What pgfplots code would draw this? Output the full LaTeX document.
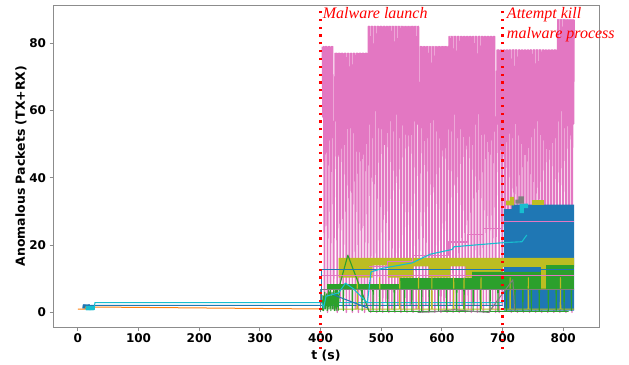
\documentclass[border=0pt]{standalone}
\usepackage{pgfplots}
\pgfplotsset{compat=1.18}
\usepackage{fontspec}
\setmainfont{DejaVu Sans}
\newfontfamily\annfont{Liberation Serif}

\definecolor{tabblue}{HTML}{1F77B4}
\definecolor{taborange}{HTML}{FF7F0E}
\definecolor{tabgreen}{HTML}{2CA02C}
\definecolor{tabpink}{HTML}{E377C2}
\definecolor{tabgray}{HTML}{7F7F7F}
\definecolor{tabolive}{HTML}{BCBD22}
\definecolor{tabcyan}{HTML}{17BECF}
\definecolor{spine}{HTML}{8C8C8C}

\begin{document}
\begin{tikzpicture}
\begin{axis}[
  name=main,
  scale only axis, width=546pt, height=322pt,
  xmin=-41, xmax=859, ymin=-4.35, ymax=91.35,
  clip=false,
  axis line style={draw=spine, line width=0.8pt},
  xtick={0,100,...,800}, ytick={0,20,...,80},
  xtick pos=left, ytick pos=left,
  tick align=outside, major tick length=3.5pt,
  tick style={draw=spine, line width=0.8pt},
  ticklabel style={font=\fontsize{12}{14}\selectfont\bfseries},
  /pgf/number format/assume math mode=true,
  label style={font=\fontsize{12.5}{15}\selectfont\bfseries},
  xlabel={t (s)}, ylabel={Anomalous Packets (TX+RX)},
  ylabel style={yshift=-4pt},
  every axis plot/.append style={line join=round},
]

% oscillating pink series (TX+RX of the busiest flow)
\addplot[tabpink, line width=1.45pt] coordinates {
(403,79)(404,58)(405,79)(406.5,1)(408,79)(409,55)(410,79)(411.5,0)(413,79)(414,60)(415,79)(416.5,2)(418,79)(419,52)(420,79)(421.5,1)(423,45)
(424,77)(425,57)(426,77)(427.5,0)(429,77)(430,54)(431,77)(432.5,3)(434,77)(435,60)(436,77)(437.5,1)(439,77)(440,50)(441,77)(442.5,0)(444,77)(445,58)(446,77)(447.5,2)(449,77)(450,55)(451,77)(452.5,0)(454,77)(455,61)(456,77)(457.5,1)(459,77)(460,48)(461,77)(462.5,0)(464,77)(465,57)(466,77)(467.5,2)(469,77)(470,53)(471,77)(472.5,0)(474,77)(475,59)(476,77)(477.5,1)
(479,85)(480,56)(481,85)(482.5,0)(484,85)(485,52)(486,85)(487.5,2)(489,85)(490,60)(491,85)(492.5,0)(494,85)(495,55)(496,85)(497.5,1)(499,85)(500,58)(501,85)(502.5,0)(504,85)(505,50)(506,85)(507.5,3)(509,85)(510,57)(511,85)(512.5,0)(514,85)(515,61)(516,85)(517.5,1)(519,85)(520,54)(521,85)(522.5,0)(524,85)(525,59)(526,85)(527.5,2)(529,85)(530,52)(531,85)(532.5,0)(534,85)(535,58)(536,85)(537.5,1)(539,85)(540,55)(541,85)(542.5,0)(544,85)(545,60)(546,85)(547.5,2)(549,85)(550,53)(551,85)(552.5,0)(554,85)(555,57)(556,85)(557.5,1)(559,85)(560,56)(561.5,85)(562.5,0)(564,42)
(565,79)(566,55)(567,79)(568.5,0)(570,79)(571,59)(572,79)(573.5,2)(575,79)(576,52)(577,79)(578.5,0)(580,79)(581,57)(582,79)(583.5,1)(585,79)(586,60)(587,79)(588.5,0)(590,79)(591,54)(592,79)(593.5,2)(595,79)(596,58)(597,79)(598.5,0)(600,79)(601,51)(602,79)(603.5,1)(605,79)(606,56)(607,79)(608.5,0)(610,79)(611,57)(612,82)(613.5,2)
(615,82)(616,54)(617,82)(618.5,0)(620,82)(621,59)(622,82)(623.5,1)(625,82)(626,52)(627,82)(628.5,0)(630,82)(631,57)(632,82)(633.5,2)(635,82)(636,60)(637,82)(638.5,0)(640,82)(641,55)(642,82)(643.5,1)(645,82)(646,58)(647,82)(648.5,0)(650,82)(651,50)(652,82)(653.5,2)(655,82)(656,56)(657,82)(658.5,0)(660,82)(661,61)(662,82)(663.5,1)(665,82)(666,53)(667,82)(668.5,0)(670,82)(671,57)(672,82)(673.5,2)(675,82)(676,55)(677,82)(678.5,0)(680,82)(681,59)(682,82)(683.5,1)(685,82)(686,54)(687,82)(688.5,0)(690,45)
(691,78)(692,56)(693,78)(694.5,0)(696,78)(697,58)(698,78)(699.5,2)(701,78)(702,53)(703,78)(704.5,1)(706,78)(707,55)(708,78)(709.5,1)(711,78)(712,60)(713,78)(714.5,0)(716,78)(717,52)(718,78)(719.5,2)(721,78)(722,57)(723,78)(724.5,0)(726,78)(727,54)(728,78)(729.5,1)(731,78)(732,59)(733,78)(734.5,0)(736,78)(737,56)(738,78)(739.5,2)(741,78)(742,51)(743,78)(744.5,0)(746,78)(747,58)(748,78)(749.5,1)(751,78)(752,55)(753,78)(754.5,0)(756,78)(757,60)(758,78)(759.5,2)(761,78)(762,53)(763,78)(764.5,0)(766,78)(767,57)(768,78)(769.5,1)(771,78)(772,54)(773,78)(774.5,0)(776,78)(777,59)(778,78)(779.5,2)(781,78)(782,56)(783,78)(784.5,0)(786,78)(787,52)(788,78)(789.5,1)
(791,87)(792,57)(793,87)(794.5,0)(796,87)(797,60)(798,87)(799.5,2)(801,87)(802,55)(803,87)(804.5,0)(806,87)(807,58)(808,87)(809.5,1)(811,87)(812,53)(813,87)(814.5,0)(816,87)(817,56)(818,87)
};

% dense blue block after the kill attempt
\addplot[fill=tabblue, draw=none] coordinates {(702,0.5)(702,30.7)(715,30.7)(715,32)(818,32)(818,0.5)};
\addplot[fill=tabcyan, draw=none] coordinates {(728,29.5)(728,32.3)(742,32.3)(742,31)(735,31)(735,29.5)};
\addplot[fill=tabolive, draw=none] coordinates {(706,31.8)(706,33.2)(712,33.2)(712,34.3)(719,34.3)(719,31.8)};
\addplot[fill=tabolive, draw=none] coordinates {(748,32)(748,33.3)(768,33.3)(768,32)};
\addplot[fill=tabgray, draw=none] coordinates {(721,32.3)(721,33.5)(726,33.5)(726,34.5)(735,34.5)(735,32.3)};

% olive band
\addplot[fill=tabolive, draw=none] coordinates {
(430,10.3)(430,16.2)(818,16.2)(818,13.5)(700,13.5)(700,10.3)
(639,10.3)(639,13.7)(614,13.7)(614,10.3)(578,10.3)(578,13.7)(553,13.7)(553,10.3)
(511,10.3)(511,14)(486,14)(486,10.3)};

% green band
\addplot[fill=tabgreen, draw=none] coordinates {(411,6.9)(411,8.4)(531,8.4)(531,10.2)(650,10.2)(650,12)(763,12)(763,6.9)};
\addplot[fill=tabolive, draw=none] coordinates {(763,6.9)(763,14.2)(771,14.2)(771,6.9)};
\addplot[fill=tabgreen, draw=none] coordinates {(771,6.9)(771,14.2)(818,14.2)(818,6.9)};

% early flows
\addplot[tabblue, line width=1pt] coordinates {(8,1.2)(9,2.3)(10,1.2)(11,2.3)(12,1.2)(13,2.3)(14,1.2)(15,2.3)(16,1.2)(17,2.3)(18,1.2)(19,2.3)(20,1.2)(21,2.1)(700,2.1)};
\addplot[taborange, line width=1pt] coordinates {(0,1)(12,1)(13,1.6)(22,1.6)(400,1)(404,1.2)};
\addplot[tabcyan, line width=1pt] coordinates {(13,0.7)(14,1.8)(15,0.7)(16,1.8)(17,0.7)(18,1.8)(19,0.7)(20,1.8)(21,0.7)(22,1.8)(23,0.7)(24,1.8)(25,0.7)(26,1.8)(27,0.8)(28,2.9)(700,2.9)};

% olive low line with spikes
\addplot[tabolive, line width=1pt] coordinates {(430,1)(460,1)(460.5,10.3)(461,1)(497,1)(497.5,10.3)(498,1)(530,1)(530.5,10.3)(531,1)(561,1)(561.5,10.3)(562,1)(583,1)(583.5,10.3)(584,1)(619,1)(619.5,10.3)(620,1)(636,1)(636.5,10.3)(637,1)(664,1)(664.5,10.3)(665,1)(712,1)(712.5,10.3)(713,1)(742,1)(742.5,10.3)(743,1)(795,1)(795.5,10.3)(796,1)(818,1)};

% green spikes below the band
\addplot[tabgreen, line width=1pt] coordinates {(411,6.9)
(425,6.9)(425.5,0.5)(426,6.9)(437,6.9)(437.5,0.5)(438,6.9)(452,6.9)(452.5,0.5)(453,6.9)(468,6.9)(468.5,0.5)(469,6.9)
(486,6.9)(486.5,0.5)(487,6.9)(497,6.9)(497.5,0.5)(498,6.9)(510,6.9)(510.5,0.5)(511,6.9)(521,6.9)(521.5,0.5)(522,6.9)
(538,6.9)(538.5,0.5)(539,6.9)(550,6.9)(550.5,0.5)(551,6.9)(566,6.9)(566.5,0.5)(567,6.9)(579,6.9)(579.5,0.5)(580,6.9)
(594,6.9)(594.5,0.5)(595,6.9)(607,6.9)(607.5,0.5)(608,6.9)(624,6.9)(624.5,0.5)(625,6.9)(636,6.9)(636.5,0.5)(637,6.9)
(651,6.9)(651.5,0.5)(652,6.9)(663,6.9)(663.5,0.5)(664,6.9)(679,6.9)(679.5,0.5)(680,6.9)(692,6.9)(692.5,0.5)(693,6.9)
(706,6.9)(706.5,0.5)(707,6.9)(720,6.9)(720.5,0.5)(721,6.9)(733,6.9)(733.5,0.5)(734,6.9)(747,6.9)(747.5,0.5)(748,6.9)
(760,6.9)(760.5,0.5)(761,6.9)(775,6.9)(775.5,0.5)(776,6.9)(788,6.9)(788.5,0.5)(789,6.9)(801,6.9)(801.5,0.5)(802,6.9)
(813,6.9)(813.5,0.5)(814,6.9)(818,6.9)};

% green flow with a short burst
\addplot[tabgreen, line width=1.1pt] coordinates {(403,0.5)(404,5)(405,0.5)(407,6)(408,1)(410,5.5)(411,0.5)(413,6.5)(414,1)(416,7)(417,0.5)(419,6)(420,1)(422,7)(423,0.5)(425,6.5)(426,1)(428,7)(429,0.5)(432,8.4)(445,17)(480,0.3)(809,0.3)};

% gray flows
\addplot[tabgray, line width=1.1pt] coordinates {(400,0)(400,6.9)(818,6.9)};
\addplot[tabgray, line width=1pt] coordinates {(560,0)(590,0.2)(620,0.8)(650,0.3)(677,0)(717,9.7)(720,0.2)};

% blue flows
\addplot[tabblue, line width=1.1pt] coordinates {(401,2.8)(401,12.8)(818,12.8)};
\addplot[tabblue, line width=1pt] coordinates {(418,5.5)(430,4.6)(478,1.3)};

% pink counters
\addplot[tabpink, line width=1.1pt] coordinates {(402,11)(818,11)};
\addplot[tabpink, line width=1.1pt] coordinates {(480,13.5)(510,13.5)(510,15.2)(551,15.2)(551,17)(611,17)(611,20.9)(642,20.9)(642,23.2)(669,23.2)(669,25)(700,25)(700,27)(818,27)};

% cyan flow
\addplot[tabcyan, line width=1.1pt] coordinates {(402,2.9)(405,1.3)(409,4.8)(430,5.8)(441,8.7)(455,6.9)(477,2.8)(480,7)(483,12)(502,13.1)(551,14.7)(581,17.3)(617,18.7)(620,19.5)(700,20.7)(732,21)(740,23)};

% event markers
\addplot[red, line width=2.2pt, dash pattern=on 2.2pt off 5.6pt] coordinates {(400,-10.8)(400,90.4)};
\addplot[red, line width=2.2pt, dash pattern=on 2.2pt off 5.6pt] coordinates {(700,-10.8)(700,90.4)};

\node[anchor=base west, inner sep=0pt, text=red, font=\annfont\itshape\fontsize{16}{19}\selectfont] at (axis cs:403.5,87.4) {Malware launch};
\node[anchor=base west, inner sep=0pt, text=red, font=\annfont\itshape\fontsize{16}{19}\selectfont] at (axis cs:707,87.4) {Attempt kill};
\node[anchor=base west, inner sep=0pt, text=red, font=\annfont\itshape\fontsize{16}{19}\selectfont] at (axis cs:707,81.4) {malware process};
\end{axis}
\path ([shift={(-53pt,-33pt)}]main.south west) rectangle ([shift={(30pt,5pt)}]main.north east);
\end{tikzpicture}
\end{document}
